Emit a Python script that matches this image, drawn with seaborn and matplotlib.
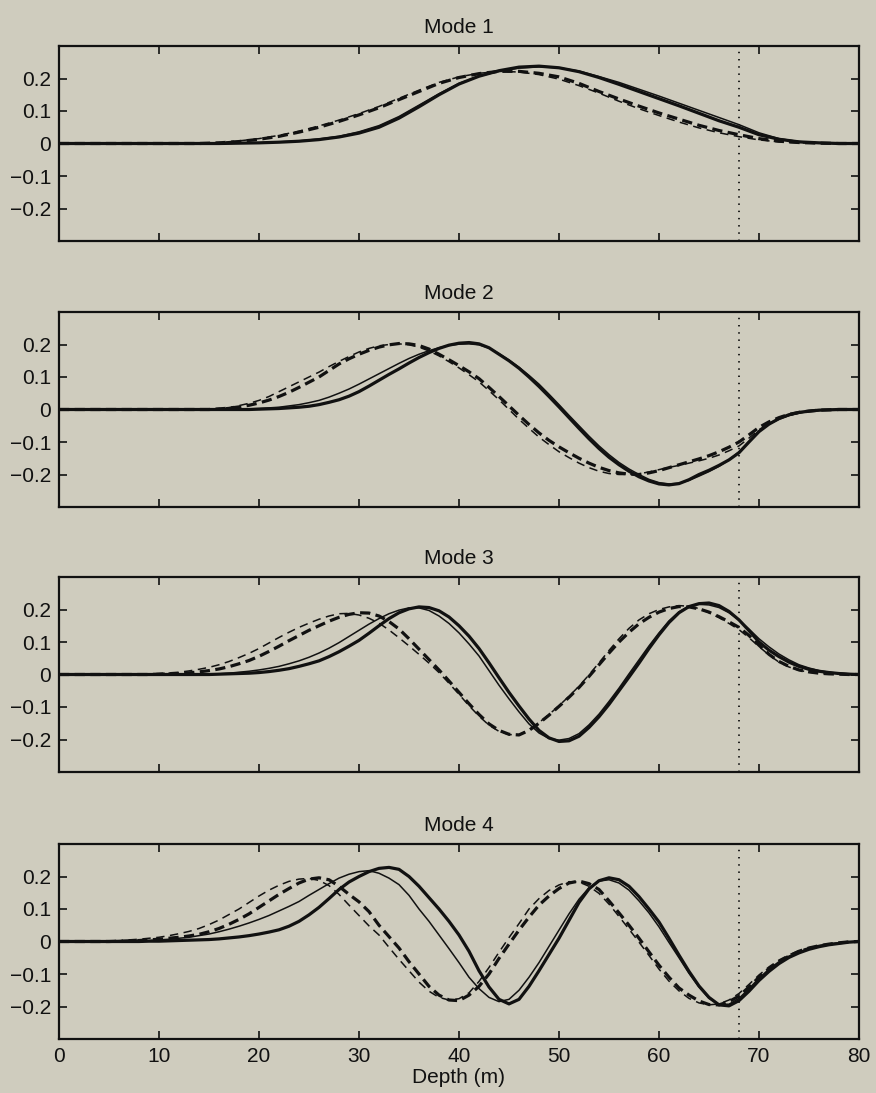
import numpy as np
import pandas as pd
import matplotlib
matplotlib.use("Agg")
import matplotlib.pyplot as plt
import seaborn as sns

# ---------------- data ----------------
DEPTH = list(range(0, 82, 2))       # 2 m samples (mode 1)
DEPTH_FINE = list(range(0, 81))     # 1 m samples (modes 2, 3, 4)
MODE_TITLES = ["Mode 1", "Mode 2", "Mode 3", "Mode 4"]
X_TICKS = [0, 10, 20, 30, 40, 50, 60, 70, 80]
Y_TICKS = [-0.2, -0.1, 0, 0.1, 0.2]
Y_TICK_LABELS = ["\u22120.2", "\u22120.1", "0", "0.1", "0.2"]
MARKER_DEPTH = 68
X_LABEL = "Depth (m)"

# Mode 1 (2 m samples)
m1_thick_solid = [0, 0, 0, 0, 0, 0, 0, 0, 0, 0.001, 0.002, 0.004, 0.007, 0.012, 0.02, 0.032,
                  0.05, 0.078, 0.113, 0.15, 0.183, 0.207, 0.224, 0.235, 0.238, 0.233, 0.221,
                  0.203, 0.182, 0.16, 0.138, 0.116, 0.093, 0.07, 0.05, 0.027, 0.013, 0.005,
                  0.002, 0, 0]
m1_thin_solid = [0, 0, 0, 0, 0, 0, 0, 0, 0, 0.001, 0.002, 0.005, 0.008, 0.014, 0.022, 0.036,
                 0.055, 0.083, 0.118, 0.153, 0.185, 0.207, 0.222, 0.232, 0.236, 0.233, 0.223,
                 0.206, 0.188, 0.167, 0.146, 0.124, 0.102, 0.08, 0.058, 0.033, 0.015, 0.006,
                 0.002, 0, 0]
m1_thick_dash = [0, 0, 0, 0, 0, 0, 0, 0, 0.002, 0.006, 0.013, 0.022, 0.035, 0.05, 0.068, 0.088,
                 0.11, 0.135, 0.16, 0.185, 0.203, 0.215, 0.222, 0.222, 0.216, 0.205, 0.185,
                 0.16, 0.137, 0.115, 0.094, 0.075, 0.056, 0.04, 0.027, 0.015, 0.007, 0.003,
                 0.001, 0, 0]
m1_thin_dash = [0, 0, 0, 0, 0, 0, 0, 0, 0.003, 0.008, 0.015, 0.025, 0.038, 0.054, 0.072, 0.092,
                0.114, 0.139, 0.164, 0.188, 0.205, 0.216, 0.222, 0.22, 0.212, 0.198, 0.178,
                0.155, 0.13, 0.107, 0.086, 0.066, 0.048, 0.033, 0.021, 0.011, 0.005, 0.002,
                0.001, 0, 0]

# Mode 2 (1 m samples)
m2_thick_solid = [0] * 20 + [
    0.001, 0.002, 0.003, 0.005, 0.007, 0.01, 0.015, 0.022, 0.03, 0.041,
    0.055, 0.072, 0.09, 0.108, 0.125, 0.143, 0.16, 0.175, 0.188, 0.198,
    0.204, 0.206, 0.202, 0.19, 0.17, 0.15, 0.127, 0.1, 0.071, 0.04,
    0.008, -0.025, -0.058, -0.09, -0.12, -0.147, -0.17, -0.19, -0.207, -0.22,
    -0.229, -0.232, -0.228, -0.216, -0.2, -0.187, -0.172, -0.155, -0.133, -0.1,
    -0.068, -0.045, -0.028, -0.016, -0.009, -0.005, -0.002, -0.001] + [0] * 3
m2_thin_solid = [0] * 18 + [
    0.001, 0.002,
    0.003, 0.005, 0.007, 0.011, 0.015, 0.021, 0.028, 0.038, 0.05, 0.063,
    0.078, 0.094, 0.11, 0.126, 0.142, 0.157, 0.17, 0.181, 0.19, 0.197,
    0.201, 0.202, 0.199, 0.189, 0.172, 0.152, 0.13, 0.105, 0.078, 0.047,
    0.015, -0.018, -0.05, -0.082, -0.112, -0.139, -0.163, -0.183, -0.2, -0.215,
    -0.225, -0.229, -0.227, -0.218, -0.205, -0.191, -0.175, -0.155, -0.13, -0.098,
    -0.066, -0.045, -0.03, -0.019, -0.011, -0.006, -0.003, -0.001] + [0] * 3
m2_thick_dash = [0] * 16 + [
    0.002, 0.004, 0.008, 0.013,
    0.02, 0.029, 0.04, 0.053, 0.068, 0.084, 0.1, 0.12, 0.14, 0.156,
    0.17, 0.182, 0.192, 0.199, 0.203, 0.202, 0.197, 0.186, 0.17, 0.153,
    0.135, 0.116, 0.095, 0.068, 0.04, 0.011, -0.018, -0.046, -0.072, -0.095,
    -0.115, -0.133, -0.15, -0.165, -0.178, -0.188, -0.195, -0.199, -0.2, -0.195,
    -0.188, -0.179, -0.17, -0.161, -0.152, -0.142, -0.13, -0.116, -0.1, -0.078,
    -0.055, -0.038, -0.025, -0.015, -0.009, -0.005, -0.002, -0.001] + [0] * 3
m2_thin_dash = [0] * 16 + [
    0.003, 0.006, 0.012, 0.019,
    0.028, 0.04, 0.055, 0.07, 0.085, 0.1, 0.115, 0.132, 0.148, 0.163,
    0.177, 0.188, 0.196, 0.2, 0.202, 0.199, 0.192, 0.18, 0.165, 0.147,
    0.128, 0.107, 0.085, 0.058, 0.03, 0.0, -0.03, -0.058, -0.085, -0.108,
    -0.13, -0.148, -0.165, -0.179, -0.19, -0.197, -0.2, -0.2, -0.198, -0.192,
    -0.185, -0.178, -0.172, -0.165, -0.158, -0.15, -0.14, -0.127, -0.112, -0.088,
    -0.062, -0.043, -0.028, -0.018, -0.01, -0.006, -0.003, -0.001] + [0] * 3

# Mode 3 (1 m samples)
m3_thick_solid = [0, 0, 0, 0, 0, 0, 0, 0, 0, 0, 0, 0, 0, 0, 0, 0,
                  0.001, 0.002, 0.003, 0.004, 0.006, 0.009, 0.013, 0.018, 0.025, 0.033,
                  0.042, 0.055, 0.07, 0.087, 0.105, 0.127, 0.15, 0.172, 0.19, 0.202,
                  0.208, 0.206, 0.196, 0.177, 0.15, 0.118, 0.08, 0.036, -0.01, -0.055,
                  -0.097, -0.137, -0.172, -0.195, -0.206, -0.204, -0.19, -0.163, -0.13, -0.092,
                  -0.05, -0.008, 0.035, 0.08, 0.122, 0.16, 0.19, 0.209, 0.218, 0.22,
                  0.212, 0.194, 0.168, 0.135, 0.1, 0.075, 0.055, 0.038, 0.025, 0.016,
                  0.01, 0.006, 0.003, 0.001, 0]
m3_thin_solid = [0, 0, 0, 0, 0, 0, 0, 0, 0, 0, 0, 0, 0, 0, 0,
                 0.001, 0.002, 0.004, 0.007, 0.01, 0.014, 0.019, 0.025, 0.033, 0.042, 0.053,
                 0.066, 0.081, 0.098, 0.117, 0.136, 0.155, 0.172, 0.187, 0.198, 0.205,
                 0.205, 0.197, 0.18, 0.157, 0.128, 0.094, 0.057, 0.012, -0.033, -0.075,
                 -0.115, -0.152, -0.18, -0.197, -0.202, -0.197, -0.182, -0.155, -0.122, -0.083,
                 -0.042, 0.002, 0.045, 0.088, 0.128, 0.165, 0.193, 0.21, 0.216, 0.214,
                 0.206, 0.19, 0.168, 0.14, 0.11, 0.085, 0.063, 0.045, 0.03, 0.02,
                 0.012, 0.007, 0.004, 0.002, 0]
m3_thick_dash = [0, 0, 0, 0, 0, 0, 0, 0, 0, 0,
                 0.001, 0.002, 0.003, 0.005, 0.008, 0.012, 0.017, 0.024, 0.033, 0.043,
                 0.056, 0.071, 0.087, 0.104, 0.12, 0.136, 0.15, 0.164, 0.176, 0.185,
                 0.19, 0.189, 0.18, 0.163, 0.14, 0.11, 0.078, 0.046, 0.014, -0.02,
                 -0.055, -0.09, -0.123, -0.152, -0.172, -0.184, -0.186, -0.172, -0.15, -0.125,
                 -0.098, -0.07, -0.04, -0.006, 0.03, 0.066, 0.1, 0.13, 0.156, 0.176,
                 0.192, 0.203, 0.209, 0.208, 0.202, 0.192, 0.178, 0.162, 0.145, 0.12,
                 0.09, 0.062, 0.04, 0.025, 0.014, 0.008, 0.004, 0.002, 0.001, 0, 0]
m3_thin_dash = [0, 0, 0, 0, 0, 0, 0, 0,
                0.001, 0.002, 0.003, 0.005, 0.007, 0.011, 0.016, 0.022, 0.03, 0.04, 0.052, 0.065,
                0.08, 0.097, 0.114, 0.13, 0.145, 0.158, 0.17, 0.18, 0.187, 0.188,
                0.183, 0.173, 0.158, 0.137, 0.113, 0.088, 0.062, 0.035, 0.006, -0.027,
                -0.061, -0.096, -0.128, -0.156, -0.175, -0.185, -0.185, -0.17, -0.148, -0.123,
                -0.096, -0.067, -0.036, -0.001, 0.036, 0.074, 0.11, 0.142, 0.168, 0.187,
                0.2, 0.208, 0.212, 0.21, 0.203, 0.19, 0.175, 0.157, 0.138, 0.113,
                0.086, 0.06, 0.038, 0.023, 0.013, 0.007, 0.004, 0.002, 0.001, 0, 0]

# Mode 4 (1 m samples)
m4_thick_solid = [0, 0, 0, 0, 0, 0, 0, 0, 0,
                  0.001, 0.001, 0.002, 0.003, 0.004, 0.005, 0.006, 0.008, 0.011, 0.014, 0.018,
                  0.023, 0.029, 0.036, 0.047, 0.062, 0.082, 0.105, 0.132, 0.16, 0.183,
                  0.2, 0.215, 0.225, 0.228, 0.222, 0.2, 0.17, 0.135, 0.1, 0.062,
                  0.02, -0.03, -0.09, -0.14, -0.178, -0.192, -0.178, -0.138, -0.09, -0.04,
                  0.01, 0.065, 0.12, 0.162, 0.187, 0.196, 0.19, 0.17, 0.138, 0.1,
                  0.06, 0.01, -0.042, -0.092, -0.137, -0.172, -0.195, -0.198, -0.182, -0.153,
                  -0.12, -0.092, -0.068, -0.049, -0.035, -0.024, -0.016, -0.01, -0.006, -0.002, 0]
m4_thin_solid = [0, 0, 0, 0, 0, 0, 0,
                 0.001, 0.002, 0.003, 0.005, 0.007, 0.01, 0.013, 0.018, 0.023, 0.03, 0.038, 0.047,
                 0.057, 0.068, 0.08, 0.094, 0.108, 0.123, 0.142, 0.16, 0.178, 0.195, 0.207,
                 0.215, 0.218, 0.21, 0.195, 0.175, 0.142, 0.1, 0.062, 0.02, -0.022,
                 -0.065, -0.11, -0.145, -0.172, -0.185, -0.178, -0.15, -0.11, -0.065, -0.015,
                 0.035, 0.085, 0.13, 0.165, 0.186, 0.19, 0.18, 0.158, 0.125, 0.088,
                 0.045, -0.003, -0.05, -0.098, -0.14, -0.175, -0.193, -0.193, -0.175, -0.145,
                 -0.113, -0.085, -0.062, -0.045, -0.032, -0.022, -0.015, -0.009, -0.005, -0.002, 0]
m4_thick_dash = [0, 0, 0, 0, 0, 0,
                 0.001, 0.002, 0.003, 0.005, 0.007, 0.01, 0.013, 0.017, 0.022, 0.03, 0.04, 0.053,
                 0.068, 0.085, 0.105, 0.125, 0.145, 0.163, 0.18, 0.192, 0.196, 0.19, 0.17, 0.145,
                 0.122, 0.092, 0.05, 0.015, -0.02, -0.062, -0.1, -0.138, -0.165, -0.18,
                 -0.182, -0.165, -0.138, -0.1, -0.052, -0.008, 0.035, 0.075, 0.112, 0.14,
                 0.163, 0.18, 0.186, 0.178, 0.16, 0.125, 0.088, 0.05, 0.01, -0.032,
                 -0.073, -0.11, -0.143, -0.165, -0.183, -0.194, -0.195, -0.185, -0.168, -0.14,
                 -0.11, -0.084, -0.062, -0.045, -0.03, -0.02, -0.013, -0.008, -0.004, -0.001, 0]
m4_thin_dash = [0, 0, 0, 0,
                0.001, 0.002, 0.003, 0.005, 0.007, 0.01, 0.013, 0.018, 0.024, 0.031, 0.04, 0.052,
                0.066, 0.083, 0.1, 0.12, 0.14, 0.158, 0.173, 0.185, 0.192, 0.194, 0.188, 0.172,
                0.145, 0.112, 0.08, 0.048, 0.02, -0.018, -0.055, -0.09, -0.125, -0.153, -0.172,
                -0.18, -0.176, -0.158, -0.123, -0.08, -0.033, 0.012, 0.055, 0.1, 0.132, 0.157,
                0.174, 0.184, 0.183, 0.17, 0.148, 0.115, 0.077, 0.038, -0.002, -0.043,
                -0.085, -0.122, -0.152, -0.175, -0.189, -0.195, -0.192, -0.18, -0.16, -0.132,
                -0.103, -0.078, -0.057, -0.041, -0.028, -0.019, -0.012, -0.007, -0.004, -0.001, 0]

MODES = [
    (DEPTH, [m1_thick_solid, m1_thin_solid, m1_thick_dash, m1_thin_dash]),
    (DEPTH_FINE, [m2_thick_solid, m2_thin_solid, m2_thick_dash, m2_thin_dash]),
    (DEPTH_FINE, [m3_thick_solid, m3_thin_solid, m3_thick_dash, m3_thin_dash]),
    (DEPTH_FINE, [m4_thick_solid, m4_thin_solid, m4_thick_dash, m4_thin_dash]),
]

# ---------------- styling ----------------
BG = "#cfccbe"
INK = "#111111"
STYLES = [
    dict(lw=2.3, ls="-"),
    dict(lw=1.1, ls="-"),
    dict(lw=2.3, ls=(0, (3.2, 1.7))),
    dict(lw=1.1, ls=(0, (5.5, 3.6))),
]

sns.set_theme(style="ticks")
plt.rcParams["font.family"] = ["Liberation Sans", "DejaVu Sans"]
plt.rcParams["axes.unicode_minus"] = True

W, H = 876, 1093
fig = plt.figure(figsize=(W / 100, H / 100), dpi=100, facecolor=BG)

left_px, right_px = 59, 859
bottoms_px = [241, 507, 772, 1039]
height_px = 195

for i, (title, (xs, series)) in enumerate(zip(MODE_TITLES, MODES)):
    ax = fig.add_axes([left_px / W, 1 - bottoms_px[i] / H,
                       (right_px - left_px) / W, height_px / H])
    ax.set_facecolor(BG)
    for vals, st in zip(series, STYLES):
        df = pd.DataFrame({"depth": xs, "amp": vals})
        sns.lineplot(data=df, x="depth", y="amp", ax=ax, color=INK,
                     lw=st["lw"], linestyle=st["ls"], errorbar=None,
                     estimator=None, sort=True)
    ax.axvline(MARKER_DEPTH, color=INK, lw=1.3, ls=(0, (0.8, 3.2)))
    ax.set_xlim(0, 80)
    ax.set_ylim(-0.3, 0.3)
    ax.set_xticks(X_TICKS)
    ax.set_yticks(Y_TICKS)
    ax.set_yticklabels(Y_TICK_LABELS)
    ax.tick_params(direction="in", length=6, width=1.2, colors=INK,
                   top=True, right=True, labelsize=15, pad=5.5)
    for sp in ax.spines.values():
        sp.set_visible(True)
        sp.set_linewidth(1.6)
        sp.set_color(INK)
    ax.set_title(title, fontsize=15, pad=9.5, color=INK)
    ax.set_ylabel("")
    if i < 3:
        ax.set_xticklabels([])
        ax.set_xlabel("")
    else:
        ax.set_xticklabels([str(t) for t in X_TICKS])
        ax.set_xlabel(X_LABEL, fontsize=15, labelpad=2, color=INK)

fig.savefig("out.png", dpi=100, facecolor=BG)
